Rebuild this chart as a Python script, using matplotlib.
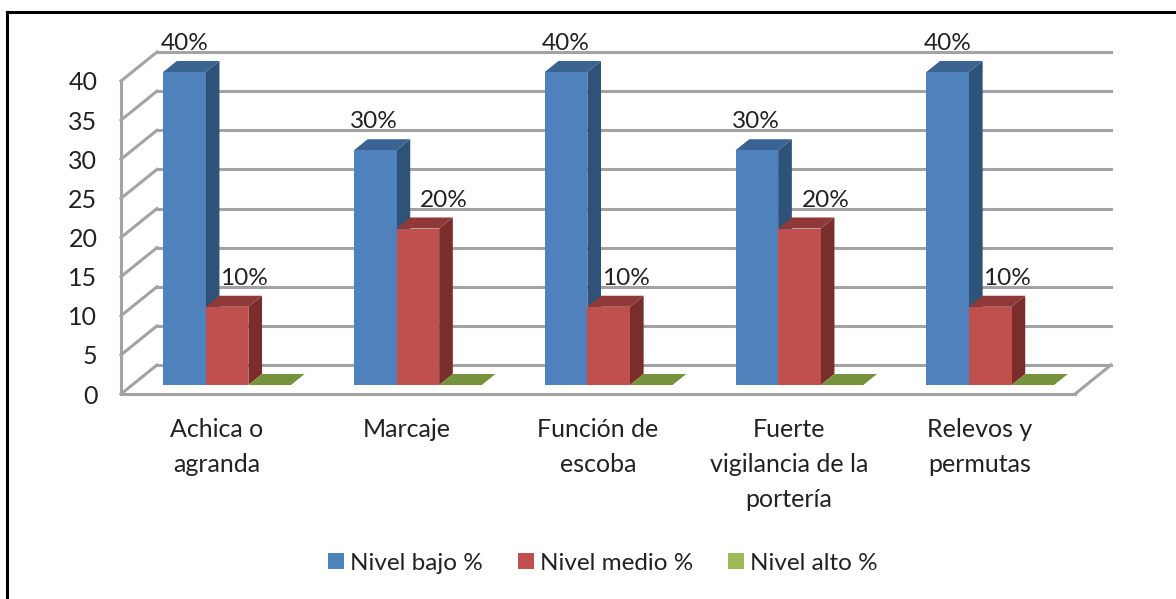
import matplotlib
matplotlib.use("Agg")
import matplotlib.pyplot as plt
from matplotlib.lines import Line2D
from matplotlib.patches import Patch, Polygon

categories = ["Achica o\nagranda", "Marcaje", "Función de\nescoba",
              "Fuerte\nvigilancia de la\nportería", "Relevos y\npermutas"]
series_names = ["Nivel bajo %", "Nivel medio %", "Nivel alto %"]
nivel_bajo = [40, 30, 40, 30, 40]
nivel_medio = [10, 20, 10, 20, 10]
nivel_alto = [0, 0, 0, 0, 0]
yticks = [0, 5, 10, 15, 20, 25, 30, 35, 40]

front = ["#4F81BD", "#C0504D", "#9BBB59"]
top = ["#3A6391", "#8F3A38", "#76923C"]
side = ["#2F5279", "#7A2E2C", "#5F7A2E"]
GRID = "#A3A3A3"
TEXT = "#222222"

plt.rcParams["font.family"] = ["Lato", "DejaVu Sans"]

W, H = 1176, 599
fig = plt.figure(figsize=(W / 100, H / 100), dpi=100)
# front plane of the 3d box
ax = fig.add_axes([121 / W, 1 - 394 / H, 954 / W, 313 / H])
ax.set_xlim(0, len(categories))
ax.set_ylim(0, 40)
for s in ax.spines.values():
    s.set_visible(False)
ax.patch.set_visible(False)

# oblique depth, in data units
DX = 36 / 190.8
DY = 29 / 7.825


def proj(x, y, d):
    return x + d * DX, y + d * DY


def line(p0, p1):
    ax.plot([p0[0], p1[0]], [p0[1], p1[1]], color=GRID, lw=2.2, zorder=1,
            clip_on=False, solid_capstyle="projecting")


n = len(categories)
for v in yticks:
    line(proj(0, v, 0), proj(0, v, 1))
    line(proj(0, v, 1), proj(n, v, 1))
line((0, 0), (0, 40))
line((0, 0), (n, 0))
line((n, 0), proj(n, 0, 1))

bar_w = 42.6 / 190.8
d0, d1 = 0.31, 0.69
# the red labels sit right of their bars in the original (pixels)
label_shift = [{30: -1}, {10: 17, 20: 26}, {}]


def bar3d(x0, value, k):
    x1 = x0 + bar_w
    z = 3 + k
    faces = [
        ([proj(x1, 0, d0), proj(x1, 0, d1), proj(x1, value, d1), proj(x1, value, d0)], side[k]),
        ([proj(x0, value, d0), proj(x1, value, d0), proj(x1, value, d1), proj(x0, value, d1)], top[k]),
        ([proj(x0, 0, d0), proj(x1, 0, d0), proj(x1, value, d0), proj(x0, value, d0)], front[k]),
    ]
    for pts, c in faces:
        ax.add_patch(Polygon(pts, closed=True, fc=c, ec="none", zorder=z, clip_on=False))


for i in range(n):
    group_left = i + (163 - 121 - 11) / 190.8
    for k, vals in enumerate([nivel_bajo, nivel_medio, nivel_alto]):
        x0 = group_left + k * bar_w
        bar3d(x0, vals[i], k)
        if vals[i] > 0:
            px, py = proj(x0 + bar_w / 2, vals[i], d0)
            shift = label_shift[k].get(vals[i], 0)
            ax.annotate(f"{vals[i]}%", (px, py), xytext=(shift * 0.72, 28.5 * 0.72),
                        textcoords="offset points", ha="center", va="center",
                        fontsize=17.6, color=TEXT, zorder=10, annotation_clip=False)

ax.set_yticks(yticks)
ax.set_xticks([i + 0.5 for i in range(n)])
ax.set_xticklabels(categories, linespacing=1.63)
ax.tick_params(axis="both", length=0, labelsize=18, labelcolor=TEXT)
ax.tick_params(axis="y", pad=17)
ax.tick_params(axis="x", pad=17)
for t in ax.get_xticklabels():
    t.set_verticalalignment("top")

handles = [Patch(fc=front[k], ec="none") for k in range(3)]
fig.legend(handles, series_names, loc="center", bbox_to_anchor=(603 / W, 1 - 563 / H),
           ncol=3, frameon=False, fontsize=17.5, labelcolor=TEXT, handlelength=0.65,
           handleheight=0.65, handletextpad=0.27, columnspacing=1.42)

# black frame of the pasted picture
for xs, ys in [([7, 7], [599, 12]), ([7, 1176], [12, 12])]:
    fig.add_artist(Line2D([x / W for x in xs], [1 - y / H for y in ys], color="black", lw=2.2))

fig.savefig("out.png", dpi=100)
